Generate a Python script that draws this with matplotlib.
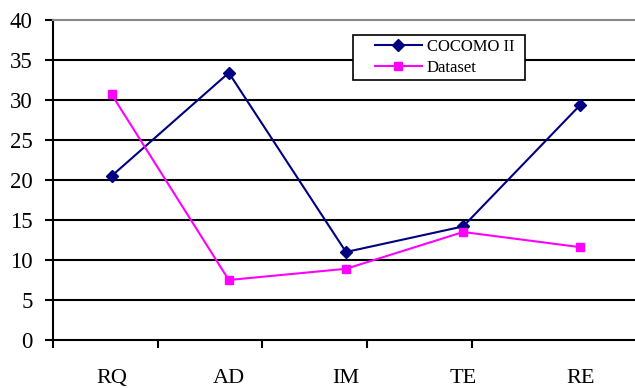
import matplotlib
matplotlib.use("Agg")
import matplotlib.pyplot as plt
from matplotlib.patches import Rectangle

categories = ["RQ", "AD", "IM", "TE", "RE"]
cocomo = [20.5, 33.4, 11.0, 14.2, 29.4]
dataset = [30.7, 7.5, 8.9, 13.5, 11.6]
yticks = [0, 5, 10, 15, 20, 25, 30, 35, 40]

plt.rcParams['font.family'] = ['Liberation Serif', 'DejaVu Serif']

W, H = 635, 388
fig = plt.figure(figsize=(W/100, H/100), dpi=100)
ax = fig.add_axes([53/W, 48/H, 586/W, 320/H])

x = list(range(len(categories)))
ax.plot(x, cocomo, color='#000080', marker='D', markersize=6, lw=1.5, label='COCOMO II', zorder=3)
ax.plot(x, dataset, color='#FF00FF', marker='s', markersize=6, lw=1.5, label='Dataset', zorder=3)

ax.set_xlim(-0.5, 4.5)
ax.set_ylim(0, 40)
ax.set_yticks(yticks)
ax.tick_params(axis='y', labelsize=16.5, length=5.5, width=1.5, direction='out', pad=9)
for v in yticks[1:-1]:
    ax.axhline(v, color='black', lw=1.5, zorder=1)

# category tick marks (as drawn in reference) and centered labels
ax.set_xticks([-0.5, 0.393, 1.286, 2.179, 3.071])
ax.set_xticklabels([])
ax.set_xticks(x, minor=True)
ax.set_xticklabels(categories, minor=True)
ax.tick_params(axis='x', which='major', length=6, width=1.5, direction='out')
ax.tick_params(axis='x', which='minor', length=0, labelsize=16, pad=21)

ax.spines['left'].set_linewidth(1.5)
ax.spines['bottom'].set_linewidth(1.5)
ax.spines['top'].set_color('#888888')
ax.spines['top'].set_linewidth(1.5)
ax.spines['right'].set_visible(False)

# legend frame (Excel-style box with asymmetric padding)
frame = Rectangle((353/W, (H-80)/H), 172/W, 45/H, transform=fig.transFigure,
                  facecolor='white', edgecolor='black', lw=1.2, zorder=4, clip_on=False)
ax.add_patch(frame)

leg = ax.legend(loc='center left', bbox_to_anchor=(375/W, (H-57.5)/H),
                bbox_transform=fig.transFigure, fontsize=12, frameon=False,
                borderpad=0, handlelength=2.82, handletextpad=0.3, labelspacing=0.3,
                borderaxespad=0)
leg.set_zorder(5)

fig.savefig("out.png", dpi=100)
